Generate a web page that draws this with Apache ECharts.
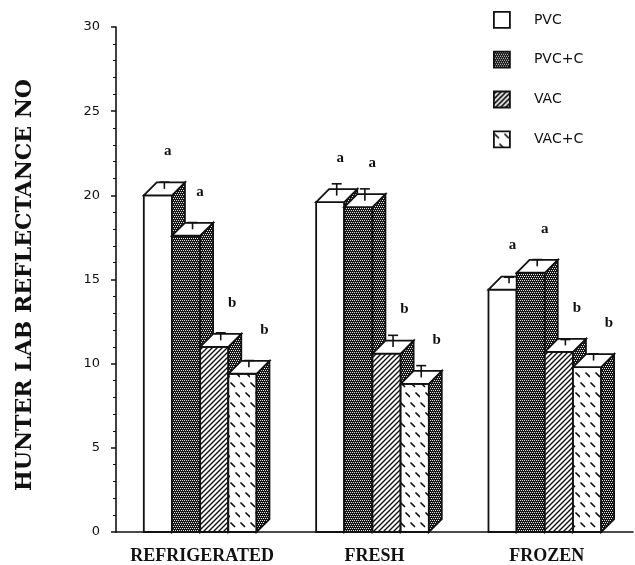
<!DOCTYPE html>
<html>
<head>
<meta charset="utf-8">
<script src="https://cdn.jsdelivr.net/npm/echarts@6/dist/echarts.min.js"></script>
<style>
  html, body { margin: 0; padding: 0; background: #fff; }
  #chart { width: 635px; height: 565px; }
</style>
</head>
<body>
<div id="chart"></div>
<script>
// Storage conditions along the x axis
const categories = ['REFRIGERATED', 'FRESH', 'FROZEN'];
// Packaging treatments
const seriesNames = ['PVC', 'PVC+C', 'VAC', 'VAC+C'];
// Mean Hunter Lab reflectance per treatment, one value per storage condition
const pvcValues = [20.0, 19.6, 14.4];
const pvcCValues = [17.6, 19.3, 15.4];
const vacValues = [11.0, 10.6, 10.7];
const vacCValues = [9.4, 8.8, 9.8];
// Standard errors
const pvcErrors = [0.4, 0.7, 0.35];
const pvcCErrors = [0.4, 0.7, 0.4];
const vacErrors = [0.45, 0.7, 0.35];
const vacCErrors = [0.4, 0.7, 0.4];
// Significance letters
const pvcLetters = ['a', 'a', 'a'];
const pvcCLetters = ['a', 'a', 'a'];
const vacLetters = ['b', 'b', 'b'];
const vacCLetters = ['b', 'b', 'b'];
// Y axis tick range
const yMin = 0, yMax = 30, yStep = 5;

const allValues = [pvcValues, pvcCValues, vacValues, vacCValues];
const allErrors = [pvcErrors, pvcCErrors, vacErrors, vacCErrors];
const allLetters = [pvcLetters, pvcCLetters, vacLetters, vacCLetters];

// ---- fill textures ----
function makeTile(w, h, draw) {
  const c = document.createElement('canvas');
  c.width = w; c.height = h;
  const ctx = c.getContext('2d');
  draw(ctx, w, h);
  return { image: c, repeat: 'repeat' };
}
const white = '#ffffff';
// dense dark stipple
const stipple = makeTile(4, 4, (ctx) => {
  ctx.fillStyle = '#151515'; ctx.fillRect(0, 0, 4, 4);
  ctx.fillStyle = '#e8e8e8';
  [[0, 0], [2, 0], [1, 2], [3, 2]].forEach(([x, y]) => ctx.fillRect(x, y, 1, 1));
});
// forward diagonal hatching
const hatch = makeTile(5, 5, (ctx, w, h) => {
  ctx.fillStyle = '#fff'; ctx.fillRect(0, 0, w, h);
  ctx.strokeStyle = '#111'; ctx.lineWidth = 1.4;
  ctx.beginPath();
  ctx.moveTo(-1, h + 1); ctx.lineTo(w + 1, -1);
  ctx.moveTo(-1, 1); ctx.lineTo(1, -1);
  ctx.moveTo(w - 1, h + 1); ctx.lineTo(w + 1, h - 1);
  ctx.stroke();
});
// scattered short dashes
const dashes = makeTile(10, 20, (ctx, w, h) => {
  ctx.fillStyle = '#fff'; ctx.fillRect(0, 0, w, h);
  ctx.strokeStyle = '#111'; ctx.lineWidth = 1.7; ctx.lineCap = 'round';
  ctx.beginPath();
  ctx.moveTo(1, 3); ctx.lineTo(4.5, 6.5);
  ctx.moveTo(6, 13); ctx.lineTo(9.5, 16.5);
  ctx.stroke();
});
const frontFills = [white, stipple, hatch, dashes];
// legend swatch for VAC shows white stripes on black
const hatchInv = makeTile(5, 5, (ctx, w, h) => {
  ctx.fillStyle = '#111'; ctx.fillRect(0, 0, w, h);
  ctx.strokeStyle = '#fff'; ctx.lineWidth = 1.6;
  ctx.beginPath();
  ctx.moveTo(-1, h + 1); ctx.lineTo(w + 1, -1);
  ctx.moveTo(-1, 1); ctx.lineTo(1, -1);
  ctx.moveTo(w - 1, h + 1); ctx.lineTo(w + 1, h - 1);
  ctx.stroke();
});
const legendFills = [white, stipple, hatchInv, dashes];

const INK = '#111';

function makeRenderItem(si) {
  return function (params, api) {
    const ci = api.value(0);
    const v = api.value(1);
    const err = api.value(2);
    const letter = allLetters[si][ci];
    const base = api.coord([ci, 0]);
    const top = api.coord([ci, v]);
    const errTop = api.coord([ci, v + err]);
    const band = api.size([1, 0])[0];
    const bw = band * 0.1635;
    const d = band * 0.075;
    const x0 = base[0] - 2 * bw - 2 + si * bw;
    const x1 = x0 + bw;
    const yt = top[1], yb = base[1];
    const line = { stroke: INK, lineWidth: 1.8, lineJoin: 'miter' };
    const cx = x0 + bw / 2 + d / 2;
    const cy = yt - d / 2;
    const eh = yt - errTop[1];
    return {
      type: 'group',
      children: [
        { type: 'rect', shape: { x: x0, y: yt, width: bw, height: yb - yt },
          style: Object.assign({ fill: frontFills[si] }, line) },
        { type: 'polygon', shape: { points: [[x1, yt], [x1 + d, yt - d], [x1 + d, yb - d], [x1, yb]] },
          style: Object.assign({ fill: stipple }, line) },
        { type: 'polygon', shape: { points: [[x0, yt], [x0 + d, yt - d], [x1 + d, yt - d], [x1, yt]] },
          style: Object.assign({ fill: white }, line) },
        { type: 'polyline', shape: { points: [[cx, cy], [cx, cy - eh]] },
          style: { stroke: INK, lineWidth: 1.6, fill: null } },
        { type: 'polyline', shape: { points: [[cx - 5, cy - eh], [cx + 5, cy - eh]] },
          style: { stroke: INK, lineWidth: 1.6, fill: null } },
        { type: 'text', x: x0 + 24 + 4 * si, y: yt - 44,
          style: { text: letter, fill: INK, font: 'bold 15px "Liberation Serif"',
                   align: 'center', verticalAlign: 'middle' } }
      ]
    };
  };
}

const series = seriesNames.map((name, si) => ({
  name: name,
  type: 'custom',
  z: 2 + si,
  renderItem: makeRenderItem(si),
  encode: { x: 0, y: 1 },
  itemStyle: { color: legendFills[si], borderColor: INK, borderWidth: 1.8 },
  data: categories.map((c, ci) => [ci, allValues[si][ci], allErrors[si][ci]])
}));

const chart = echarts.init(document.getElementById('chart'), null, { renderer: 'canvas' });
chart.setOption({
  animation: false,
  backgroundColor: '#fff',
  grid: { left: 116, right: 2, top: 27, bottom: 33, containLabel: false },
  legend: {
    orient: 'vertical',
    left: 488, top: 6,
    itemWidth: 16, itemHeight: 16, itemGap: 22,
    icon: 'rect',
    textStyle: { fontFamily: 'DejaVu Sans', fontSize: 14, color: INK, padding: [0, 0, 0, 19] },
    data: seriesNames.map((n, si) => ({
      name: n,
      itemStyle: { color: legendFills[si], borderColor: INK, borderWidth: 1.8 }
    }))
  },
  xAxis: {
    type: 'category',
    data: categories,
    axisLine: { lineStyle: { color: INK, width: 1.6 } },
    axisTick: { alignWithLabel: true, length: 6, lineStyle: { color: INK, width: 1.5 } },
    axisLabel: { interval: 0, hideOverlap: false, fontFamily: 'Liberation Serif', fontWeight: 'bold',
                 fontSize: 18, color: INK, margin: 15 },
    splitLine: { show: false }
  },
  yAxis: {
    type: 'value',
    min: yMin, max: yMax, interval: yStep,
    name: 'HUNTER LAB REFLECTANCE NO',
    nameLocation: 'middle',
    nameRotate: 90,
    nameGap: 80,
    nameTextStyle: { fontFamily: 'DejaVu Serif', fontWeight: 'bold', fontSize: 22, color: INK, padding: [0, 11, 0, 0] },
    axisLine: { show: true, lineStyle: { color: INK, width: 1.6 } },
    axisTick: { show: true, length: 5, lineStyle: { color: INK, width: 1.5 } },
    minorTick: { show: true, splitNumber: 5, length: 3, lineStyle: { color: INK, width: 1 } },
    axisLabel: { fontFamily: 'DejaVu Sans', fontSize: 13, color: INK, margin: 16 },
    splitLine: { show: false },
    minorSplitLine: { show: false }
  },
  series: series
});
</script>
</body>
</html>
